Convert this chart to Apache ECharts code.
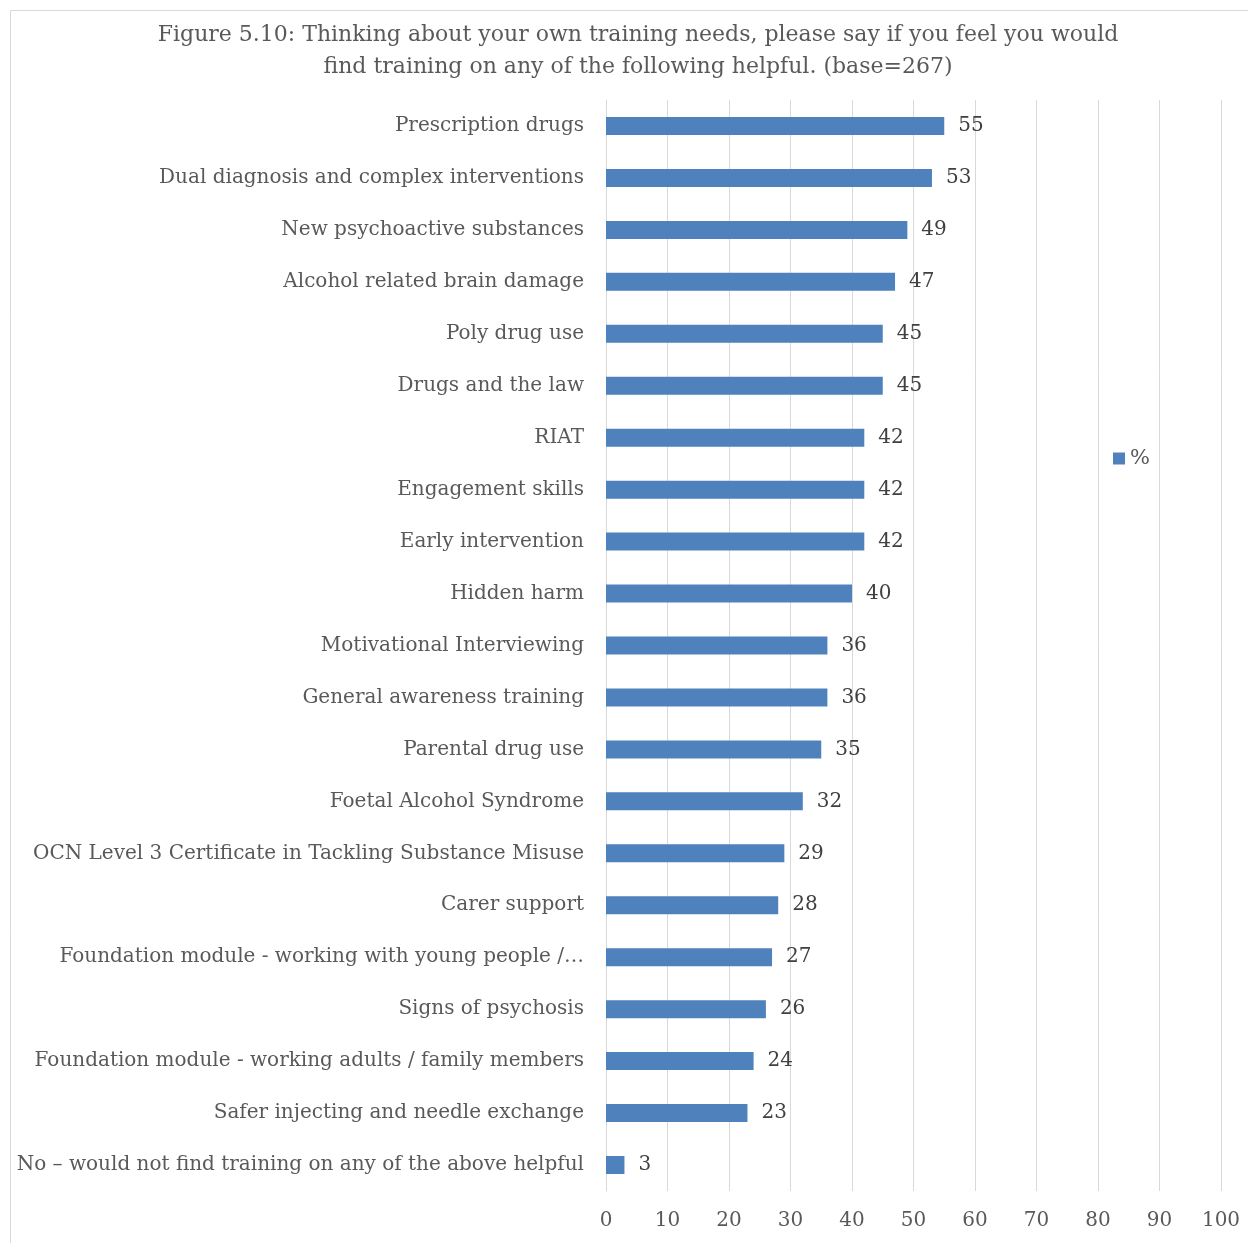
<!DOCTYPE html>
<html><head><meta charset="utf-8">
<script src="https://cdn.jsdelivr.net/npm/echarts@6/dist/echarts.min.js"></script>
<style>html,body{margin:0;padding:0;background:#fff}#c{width:1248px;height:1243px}</style>
</head><body><div id="c"></div>
<script>
const categories = [
  "Prescription drugs",
  "Dual diagnosis and complex interventions",
  "New psychoactive substances",
  "Alcohol related brain damage",
  "Poly drug use",
  "Drugs and the law",
  "RIAT",
  "Engagement skills",
  "Early intervention",
  "Hidden harm",
  "Motivational Interviewing",
  "General awareness training",
  "Parental drug use",
  "Foetal Alcohol Syndrome",
  "OCN Level 3 Certificate in Tackling Substance Misuse",
  "Carer support",
  "Foundation module - working with young people /…",
  "Signs of psychosis",
  "Foundation module - working adults / family members",
  "Safer injecting and needle exchange",
  "No – would not find training on any of the above helpful"
];
const values = [55,53,49,47,45,45,42,42,42,40,36,36,35,32,29,28,27,26,24,23,3];
const xTicks = {min:0, max:100, interval:10};
const seriesName = "%";
const titleText = "Figure 5.10: Thinking about your own training needs, please say if you feel you would\nfind training on any of the following helpful. (base=267)";

const FONT = "DejaVu Serif";
const chart = echarts.init(document.getElementById('c'), null, {renderer:'canvas'});
chart.setOption({
  animation:false,
  backgroundColor:'#fff',
  graphic:[{type:'rect', shape:{x:10.5,y:10.5,width:1260,height:1260}, style:{fill:'none', stroke:'#d9d9d9', lineWidth:1}, silent:true}],
  title:{text:titleText, left:633, textAlign:'center', top:14, textStyle:{fontFamily:FONT, fontSize:22, fontWeight:'normal', color:'#595959', lineHeight:32, align:'center'}},
  legend:{data:[seriesName], left:1108, top:443, itemWidth:12, itemHeight:12, icon:'rect', textStyle:{fontFamily:FONT, fontSize:21, color:'#595959'}},
  grid:{left:606, right:27, top:100, bottom:52, containLabel:false},
  xAxis:{type:'value', min:xTicks.min, max:xTicks.max, interval:xTicks.interval,
    axisLine:{show:false}, axisTick:{show:false},
    splitLine:{lineStyle:{color:'#d9d9d9', width:1}},
    axisLabel:{fontFamily:FONT, fontSize:20, color:'#595959', margin:20}},
  yAxis:{type:'category', data:categories, inverse:true,
    axisLine:{show:true, lineStyle:{color:'#d9d9d9'}}, axisTick:{show:false},
    axisLabel:{fontFamily:FONT, fontSize:20, color:'#595959', margin:22, padding:[3,0,0,0]}},
  series:[{name:seriesName, type:'bar', data:values, barWidth:18,
    itemStyle:{color:'#4f81bd'},
    label:{show:true, position:'right', distance:14, fontFamily:FONT, fontSize:20, color:'#404040', padding:[3,0,0,0]}}]
});
</script></body></html>
